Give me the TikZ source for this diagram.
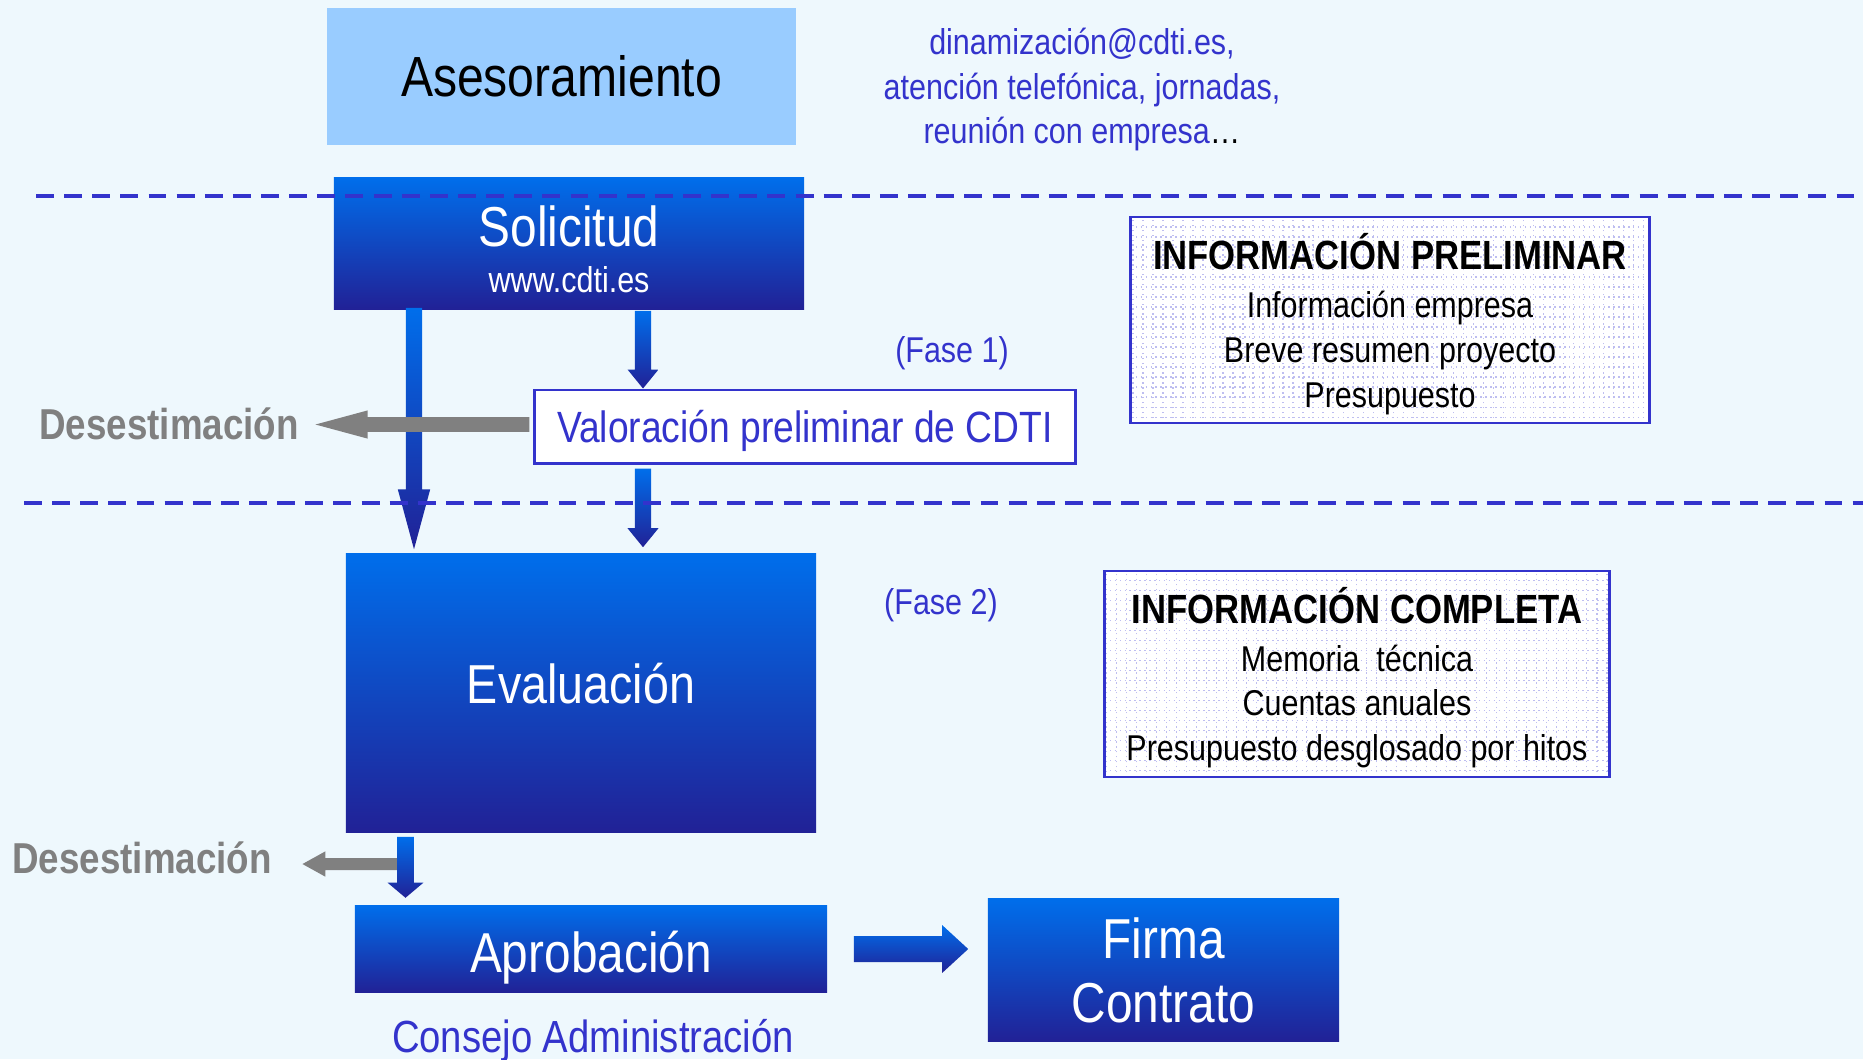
\documentclass[tikz,border=0pt]{standalone}
\usepackage{fontspec}
\setmainfont{Liberation Sans}[FakeStretch=0.85]
\usetikzlibrary{calc,positioning}
\definecolor{cdtitop}{RGB}{0,110,235}
\definecolor{cdtibot}{RGB}{33,33,150}
\definecolor{cdtiblue}{RGB}{51,51,204}
\definecolor{bgblue}{RGB}{238,248,253}
\definecolor{asblue}{RGB}{153,204,255}
\definecolor{gridcol}{RGB}{190,190,240}
\definecolor{rejgray}{RGB}{128,128,128}

\tikzset{
  cdtibox/.style={rectangle,inner sep=0pt,top color=cdtitop,bottom color=cdtibot,
    text=white,align=center,font=\fontsize{16}{18.2}\selectfont},
  infobox/.style={rectangle,inner sep=0pt,draw=cdtiblue,line width=0.8pt,fill=white,
    align=center,font=\fontsize{10.2}{12.7}\selectfont,
    path picture={\draw[gridcol,densely dotted,line width=0.4pt,step=0.1cm]
      (path picture bounding box.south west) grid (path picture bounding box.north east);}},
  bluetxt/.style={text=cdtiblue,align=center,font=\fontsize{10.2}{12.7}\selectfont},
  rejtxt/.style={text=rejgray,inner sep=0pt,font=\fontsize{12.3}{14}\selectfont\bfseries},
  dashline/.style={cdtiblue,line width=1.15pt,dash pattern=on 5.1pt off 2.9pt},
}

% block arrows: start, tip, half shaft, half head, head length
\newcommand{\downarr}[5]{%
  \shade[top color=cdtitop,bottom color=cdtibot] let \p1=(#1), \p2=(#2) in
    (\x1-#3,\y1) -- (\x1+#3,\y1) -- (\x1+#3,\y2+#5) -- (\x1+#4,\y2+#5) -- (\x1,\y2)
    -- (\x1-#4,\y2+#5) -- (\x1-#3,\y2+#5) -- cycle;}
\newcommand{\rightarr}[5]{%
  \shade[top color=cdtitop,bottom color=cdtibot] let \p1=(#1), \p2=(#2) in
    (\x1,\y1+#3) -- (\x2-#5,\y1+#3) -- (\x2-#5,\y1+#4) -- (\x2,\y1) -- (\x2-#5,\y1-#4)
    -- (\x2-#5,\y1-#3) -- (\x1,\y1-#3) -- cycle;}
\newcommand{\leftarr}[5]{%
  \fill[rejgray] let \p1=(#1), \p2=(#2) in
    (\x1,\y1+#3) -- (\x2+#5,\y1+#3) -- (\x2+#5,\y1+#4) -- (\x2,\y1) -- (\x2+#5,\y1-#4)
    -- (\x2+#5,\y1-#3) -- (\x1,\y1-#3) -- cycle;}

\begin{document}
\begin{tikzpicture}[x=0.01cm,y=-0.01cm]
\useasboundingbox (0,0) rectangle (1863,1059);
\fill[bgblue] (0,0) rectangle (1863,1059);

% phase 0
\node[rectangle,fill=asblue,minimum width=4.69cm,minimum height=1.37cm,
  font=\fontsize{16.1}{18}\selectfont] (ases) at (561.5,76.5) {Asesoramiento};
\node[bluetxt] (contact) at (1082,89.5) {dinamización@cdti.es,\\atención telefónica, jornadas,\\
  reunión con empresa\textcolor{black}{\ldots}};

% phase 1
\node[cdtibox,minimum width=4.70cm,minimum height=1.31cm] (sol) at (569,243.5)
  {\rule{0pt}{15.1pt}Solicitud\\[-5.1pt]{\fontsize{10.2}{12}\selectfont www.cdti.es}};
\node[rectangle,draw=cdtiblue,line width=0.85pt,fill=white,minimum width=5.40cm,
  minimum height=0.73cm,text depth=0pt,text=cdtiblue,font=\fontsize{12.45}{14}\selectfont]
  (val) at (805,426.5) {Valoración preliminar de CDTI};
\node[bluetxt] (fase1) at (952,353.5) {(Fase 1)};
\node[infobox,minimum width=5.18cm,minimum height=2.06cm] (infopre) at (1390,320)
  {{\fontsize{11.6}{13}\selectfont\bfseries\rule{0pt}{12.6pt}INFORMACIÓN PRELIMINAR}\\[1pt]
   Información empresa\\Breve resumen proyecto\\Presupuesto};
\node[rejtxt] (des1) at (169,424) {Desestimación};

% phase 2
\node[cdtibox,minimum width=4.70cm,minimum height=2.78cm,text height=6.2pt,text depth=0pt,
  font=\fontsize{15.6}{18}\selectfont] (eva) at (581,693) {Evaluación};
\node[bluetxt] (fase2) at (941,605.5) {(Fase 2)};
\node[infobox,minimum width=5.04cm,minimum height=2.06cm] (infocom) at (1357,674)
  {{\fontsize{11.6}{13}\selectfont\bfseries\rule{0pt}{12.2pt}INFORMACIÓN COMPLETA}\\[1pt]
   Memoria\ \ técnica\\Cuentas anuales\\Presupuesto desglosado por hitos};
\node[rejtxt] (des2) at (142,858) {Desestimación};
\node[cdtibox,minimum width=4.72cm,minimum height=0.87cm,text height=13.6pt,text depth=0pt]
  (apr) at (591,949) {Aprobación};
\node[bluetxt,font=\fontsize{12.8}{14}\selectfont] (consejo) at (593,1040.5) {Consejo Administración};
\node[cdtibox,minimum width=3.51cm,minimum height=1.42cm] (firma) at (1163.5,970) {Firma\\Contrato};

% arrows
\coordinate (xl) at (414,0);
\coordinate (xr) at (643,0);
\coordinate (xs) at (405.5,0);
\coordinate (a1s) at ($(xl |- sol.south)+(0,-2)$);
\coordinate (a1e) at ($(xl |- eva.north)+(0,-4)$);
\coordinate (a2s) at ($(xr |- sol.south)+(0,1)$);
\coordinate (a2e) at (xr |- val.north);
\coordinate (a3s) at ($(xr |- val.south)+(0,4)$);
\coordinate (a3e) at ($(xr |- eva.north)+(0,-6)$);
\coordinate (a4s) at ($(xs |- eva.south)+(0,4)$);
\coordinate (a4e) at ($(xs |- apr.north)+(0,-7)$);
\coordinate (r1s) at ($(val.west)+(-4,-2)$);
\coordinate (r1e) at ($(des1.east)+(16,0)$);
\coordinate (r2s) at (397,864);
\coordinate (r2e) at ($(des2.east |- r2s)+(30,0)$);
\coordinate (h1s) at ($(apr.east)+(26,0)$);
\coordinate (h1e) at ($(firma.west |- h1s)+(-19,0)$);

\downarr{a1s}{a1e}{2.3pt}{4.6pt}{17pt}
\downarr{a2s}{a2e}{2.3pt}{4.4pt}{5.4pt}
\downarr{a3s}{a3e}{2.3pt}{4.4pt}{5.4pt}
\leftarr{r1s}{r1e}{2.1pt}{4pt}{14.8pt}
\leftarr{r2s}{r2e}{1.7pt}{3.6pt}{6.5pt}
\downarr{a4s}{a4e}{2.4pt}{5.1pt}{4.3pt}
\rightarr{h1s}{h1e}{3.7pt}{6.8pt}{7.4pt}

% phase separators
\draw[dashline] (36,196) -- (1863,196);
\draw[dashline] (24,503) -- (1863,503);
\end{tikzpicture}
\end{document}
